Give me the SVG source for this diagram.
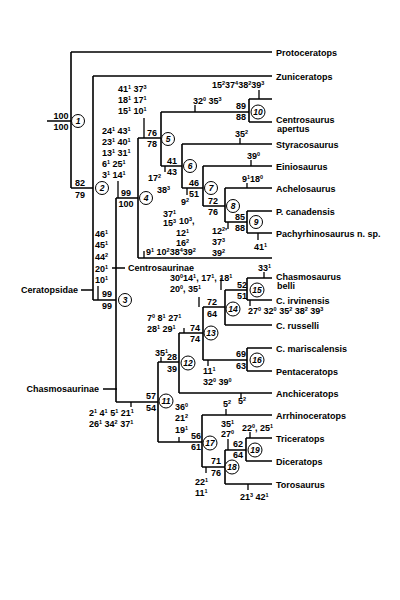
<svg xmlns="http://www.w3.org/2000/svg" width="400" height="600" viewBox="0 0 400 600">
<style>
.l{stroke:#000;stroke-width:1.6;fill:none}
.k{stroke:#000;stroke-width:1.3;fill:none}
text{font-family:"Liberation Sans",Arial,sans-serif;font-weight:bold;font-size:9px;fill:#000}
.m{text-anchor:middle}
.s{font-size:5.5px;baseline-shift:3.5px}
.c circle{fill:#fff;stroke:#000;stroke-width:1}
.c text.i{font-style:italic;text-anchor:middle;font-size:8.5px}
</style>
<rect width="400" height="600" fill="#fff"/>
<g id="connectors">
<path class="l" d="M47 121H71M71 52V188M71 52H272M71 188H93M93 76V300M93 76H272M93 300H116M116 198V402M116 198H138M138 138V258M138 258H272M138 138H161M161 112V166M161 112H249M249 99V122M249 99H272M249 122H272M161 166H182M182 144V188M182 144H272M182 188H203M203 166V206M203 166H272M203 206H225M225 188V222M225 188H272M225 222H247M247 211V233M247 211H272M247 233H272"/>
<path class="l" d="M116 402H158M158 362V442M158 362H179M179 333V393M179 393H272M179 333H203M203 307V360M203 307H225M225 290V325M225 325H272M225 290H247M247 278V300M247 278H272M247 300H272M203 360H247M247 348V371M247 348H272M247 371H272M158 442H202M202 415V467M202 415H272M202 467H225M225 450V484M225 450H246M246 438V461M246 438H272M246 461H272M225 484H272"/>
<path class="k" d="M81 290H93M112 268H125M103 389H117"/>
<path class="k" d="M118 181V198M144 118V138M195 105V112M259 90V99M240 138V144M165 166V172M251 160V166M247 183V188M187 188V195M228 222V229M258 233V240M144 251V258M98 286V300M131 402V407M161 357V362M184 328V333M264 272V278M221 278V290M250 300V306M208 360V366M241 393V398M226 409V415M179 437V442M206 467V473M228 439V450M250 432V438M248 484V490M199 297V307"/>
</g>
<g id="taxa">
<g id="protoceratops"><text x="276" y="55.5">Protoceratops</text></g>
<g id="zuniceratops"><text x="276" y="79.5">Zuniceratops</text></g>
<g id="centrosaurus-apertus"><text x="276" y="123">Centrosaurus</text><text x="277" y="131.5">apertus</text></g>
<g id="styracosaurus"><text x="276" y="147.5">Styracosaurus</text></g>
<g id="einiosaurus"><text x="276" y="169.5">Einiosaurus</text></g>
<g id="achelosaurus"><text x="276" y="191.5">Achelosaurus</text></g>
<g id="p-canadensis"><text x="276" y="214.5">P. canadensis</text></g>
<g id="pachyrhinosaurus"><text x="276" y="236.5">Pachyrhinosaurus n. sp.</text></g>
<g id="chasmosaurus-belli"><text x="276" y="280">Chasmosaurus</text><text x="277" y="288.5">belli</text></g>
<g id="c-irvinensis"><text x="276" y="303.5">C. irvinensis</text></g>
<g id="c-russelli"><text x="276" y="328.5">C. russelli</text></g>
<g id="c-mariscalensis"><text x="276" y="351.5">C. mariscalensis</text></g>
<g id="pentaceratops"><text x="276" y="374.5">Pentaceratops</text></g>
<g id="anchiceratops"><text x="276" y="396.5">Anchiceratops</text></g>
<g id="arrhinoceratops"><text x="276" y="418.5">Arrhinoceratops</text></g>
<g id="triceratops"><text x="276" y="441.5">Triceratops</text></g>
<g id="diceratops"><text x="276" y="464.5">Diceratops</text></g>
<g id="torosaurus"><text x="276" y="487.5">Torosaurus</text></g>
</g>
<g id="clade-labels">
<text x="78" y="293" text-anchor="end">Ceratopsidae</text>
<text x="128" y="271">Centrosaurinae</text>
<text x="99" y="392" text-anchor="end">Chasmosaurinae</text>
</g>
<g id="n1" class="c"><text class="m" x="61" y="119">100</text><text class="m" x="61" y="130">100</text><circle cx="78" cy="121" r="6.5"/><text class="i" x="78" y="124">1</text></g>
<g id="n2" class="c"><text class="m" x="80" y="186">82</text><text class="m" x="80" y="198">79</text><circle cx="102" cy="188" r="6.5"/><text class="i" x="102" y="191">2</text></g>
<g id="n3" class="c"><text class="m" x="107" y="297">99</text><text class="m" x="107" y="309">99</text><circle cx="125" cy="300" r="6.5"/><text class="i" x="125" y="303">3</text></g>
<g id="n4" class="c"><text class="m" x="126" y="196">99</text><text class="m" x="126" y="207">100</text><circle cx="146" cy="198" r="6.5"/><text class="i" x="146" y="201">4</text></g>
<g id="n5" class="c"><text class="m" x="152" y="136">76</text><text class="m" x="152" y="147">78</text><circle cx="168" cy="139" r="6.5"/><text class="i" x="168" y="142">5</text></g>
<g id="n6" class="c"><text class="m" x="172" y="164">41</text><text class="m" x="172" y="175">43</text><circle cx="190" cy="166" r="6.5"/><text class="i" x="190" y="169">6</text></g>
<g id="n7" class="c"><text class="m" x="194" y="186">46</text><text class="m" x="194" y="197">51</text><circle cx="211" cy="188" r="6.5"/><text class="i" x="211" y="191">7</text></g>
<g id="n8" class="c"><text class="m" x="213" y="204">72</text><text class="m" x="213" y="215">76</text><circle cx="233" cy="206" r="6.5"/><text class="i" x="233" y="209">8</text></g>
<g id="n9" class="c"><text class="m" x="240" y="220">85</text><text class="m" x="240" y="231">88</text><circle cx="256" cy="222" r="6.5"/><text class="i" x="256" y="225">9</text></g>
<g id="n10" class="c"><text class="m" x="241" y="109">89</text><text class="m" x="241" y="120">88</text><circle cx="258" cy="112" r="7"/><text class="i" x="258" y="115">10</text></g>
<g id="n11" class="c"><text class="m" x="151" y="399">57</text><text class="m" x="151" y="411">54</text><circle cx="166" cy="401" r="7"/><text class="i" x="166" y="404">11</text></g>
<g id="n12" class="c"><text class="m" x="172" y="360">28</text><text class="m" x="172" y="372">39</text><circle cx="188" cy="363" r="7"/><text class="i" x="188" y="366">12</text></g>
<g id="n13" class="c"><text class="m" x="195" y="331">74</text><text class="m" x="195" y="342">74</text><circle cx="211" cy="333" r="7"/><text class="i" x="211" y="336">13</text></g>
<g id="n14" class="c"><text class="m" x="212" y="305">72</text><text class="m" x="212" y="317">64</text><circle cx="233" cy="309" r="7"/><text class="i" x="233" y="312">14</text></g>
<g id="n15" class="c"><text class="m" x="242" y="288">52</text><text class="m" x="242" y="299">51</text><circle cx="257" cy="290" r="7"/><text class="i" x="257" y="293">15</text></g>
<g id="n16" class="c"><text class="m" x="241" y="357">69</text><text class="m" x="241" y="369">63</text><circle cx="257" cy="360" r="7"/><text class="i" x="257" y="363">16</text></g>
<g id="n17" class="c"><text class="m" x="196" y="439">56</text><text class="m" x="196" y="450">61</text><circle cx="210" cy="443" r="7"/><text class="i" x="210" y="446">17</text></g>
<g id="n18" class="c"><text class="m" x="216" y="464">71</text><text class="m" x="216" y="476">76</text><circle cx="232" cy="467" r="7"/><text class="i" x="232" y="470">18</text></g>
<g id="n19" class="c"><text class="m" x="238" y="447">62</text><text class="m" x="238" y="458">64</text><circle cx="255" cy="450" r="7"/><text class="i" x="255" y="453">19</text></g>
<g id="characters">
<text x="118" y="92">41<tspan class="s">1</tspan> 37<tspan class="s">3</tspan></text>
<text x="118" y="103">18<tspan class="s">1</tspan> 17<tspan class="s">1</tspan></text>
<text x="118" y="114">15<tspan class="s">1</tspan> 10<tspan class="s">1</tspan></text>
<text x="102" y="134">24<tspan class="s">1</tspan> 43<tspan class="s">1</tspan></text>
<text x="102" y="145">23<tspan class="s">1</tspan> 40<tspan class="s">1</tspan></text>
<text x="102" y="156">13<tspan class="s">1</tspan> 31<tspan class="s">1</tspan></text>
<text x="102" y="167">6<tspan class="s">1</tspan> 25<tspan class="s">1</tspan></text>
<text x="102" y="178">3<tspan class="s">1</tspan> 14<tspan class="s">1</tspan></text>
<text x="212" y="88">15<tspan class="s">2</tspan>37<tspan class="s">4</tspan>38<tspan class="s">2</tspan>39<tspan class="s">3</tspan></text>
<text x="193" y="104">32<tspan class="s">0</tspan> 35<tspan class="s">3</tspan></text>
<text x="235" y="137">35<tspan class="s">2</tspan></text>
<text x="247" y="159">39<tspan class="s">0</tspan></text>
<text x="242" y="182">9<tspan class="s">1</tspan>18<tspan class="s">0</tspan></text>
<text x="148" y="181">17<tspan class="s">2</tspan></text>
<text x="157" y="193">38<tspan class="s">3</tspan></text>
<text x="181" y="205">9<tspan class="s">2</tspan></text>
<text x="163" y="217">37<tspan class="s">1</tspan></text>
<text x="163" y="226">15<tspan class="s">3</tspan></text>
<text x="179" y="224">10<tspan class="s">3</tspan>,</text>
<text x="176" y="236">12<tspan class="s">1</tspan></text>
<text x="176" y="246">16<tspan class="s">2</tspan></text>
<text x="212" y="234">12<tspan class="s">2</tspan>'</text>
<text x="212" y="245">37<tspan class="s">3</tspan></text>
<text x="212" y="256">39<tspan class="s">2</tspan></text>
<text x="254" y="250">41<tspan class="s">1</tspan></text>
<text x="146" y="255">9<tspan class="s">1</tspan> 10<tspan class="s">2</tspan>38<tspan class="s">4</tspan>39<tspan class="s">2</tspan></text>
<text x="95" y="237">46<tspan class="s">1</tspan></text>
<text x="95" y="248">45<tspan class="s">1</tspan></text>
<text x="95" y="260">44<tspan class="s">2</tspan></text>
<text x="95" y="272">20<tspan class="s">1</tspan></text>
<text x="95" y="283">10<tspan class="s">1</tspan></text>
<text x="258" y="271">33<tspan class="s">1</tspan></text>
<text x="170" y="281">30<tspan class="s">0</tspan>14<tspan class="s">1</tspan>, 17<tspan class="s">1</tspan>, 18<tspan class="s">1</tspan></text>
<text x="170" y="292">20<tspan class="s">0</tspan>, 35<tspan class="s">1</tspan></text>
<text x="248" y="314">27<tspan class="s">0</tspan> 32<tspan class="s">0</tspan> 35<tspan class="s">2</tspan> 38<tspan class="s">2</tspan> 39<tspan class="s">3</tspan></text>
<text x="147" y="321">7<tspan class="s">0</tspan> 8<tspan class="s">1</tspan> 27<tspan class="s">1</tspan></text>
<text x="147" y="332">28<tspan class="s">1</tspan> 29<tspan class="s">1</tspan></text>
<text x="155" y="356">35<tspan class="s">1</tspan></text>
<text x="203" y="374">11<tspan class="s">1</tspan></text>
<text x="203" y="385">32<tspan class="s">0</tspan> 39<tspan class="s">0</tspan></text>
<text x="238" y="404">5<tspan class="s">2</tspan></text>
<text x="223" y="407">5<tspan class="s">2</tspan></text>
<text x="89" y="416">2<tspan class="s">1</tspan> 4<tspan class="s">1</tspan> 5<tspan class="s">1</tspan> 21<tspan class="s">1</tspan></text>
<text x="89" y="427">26<tspan class="s">1</tspan> 34<tspan class="s">2</tspan> 37<tspan class="s">1</tspan></text>
<text x="175" y="410">36<tspan class="s">0</tspan></text>
<text x="175" y="421">21<tspan class="s">2</tspan></text>
<text x="175" y="433">19<tspan class="s">1</tspan></text>
<text x="221" y="427">35<tspan class="s">1</tspan></text>
<text x="221" y="437">27<tspan class="s">0</tspan></text>
<text x="242" y="431">22<tspan class="s">0</tspan>, 25<tspan class="s">1</tspan></text>
<text x="195" y="485">22<tspan class="s">1</tspan></text>
<text x="195" y="496">11<tspan class="s">1</tspan></text>
<text x="240" y="500">21<tspan class="s">3</tspan> 42<tspan class="s">1</tspan></text>
</g>
</svg>
